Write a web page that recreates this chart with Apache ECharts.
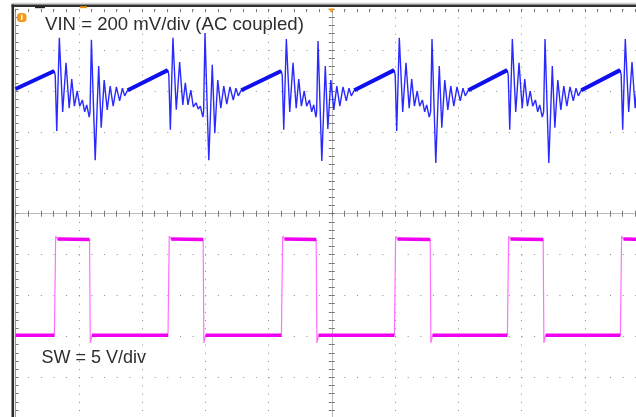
<!DOCTYPE html>
<html><head><meta charset="utf-8">
<script src="https://cdn.jsdelivr.net/npm/echarts@6/dist/echarts.min.js"></script>
<style>html,body{margin:0;padding:0;background:#fff}#c{width:636px;height:417px}</style>
</head><body><div id="c"></div>
<script>
// Horizontal position in divisions (screen centre = 0), vertical level in divisions (centre = 0)
const vinTime = [
  -5.000,
  -4.388,-4.372,-4.348,-4.307,-4.254,-4.201,-4.151,-4.111,-4.069,-4.024,-3.985,-3.942,-3.906,-3.874,-3.834,
  -3.822,-3.800,-3.740,-3.685,-3.645,-3.598,-3.550,-3.503,-3.456,-3.405,-3.353,-3.310,-3.274,-3.226,
  -2.592,-2.576,-2.552,-2.511,-2.458,-2.405,-2.355,-2.315,-2.273,-2.228,-2.189,-2.146,-2.110,-2.078,-2.038,
  -2.026,-2.004,-1.944,-1.889,-1.849,-1.802,-1.754,-1.707,-1.660,-1.609,-1.557,-1.514,-1.478,-1.430,
  -0.799,-0.783,-0.759,-0.718,-0.664,-0.612,-0.562,-0.522,-0.480,-0.435,-0.396,-0.353,-0.317,-0.285,-0.250,
  -0.239,-0.217,-0.157,-0.102,-0.062,-0.015,0.033,0.080,0.128,0.178,0.230,0.273,0.309,0.357,
  0.987,1.003,1.027,1.068,1.122,1.174,1.224,1.264,1.307,1.351,1.390,1.433,1.469,1.501,1.541,
  1.563,1.585,1.645,1.700,1.740,1.787,1.835,1.882,1.930,1.980,2.032,2.075,2.111,2.159,
  2.774,2.790,2.814,2.855,2.909,2.961,3.011,3.051,3.094,3.138,3.177,3.220,3.256,3.288,3.328,
  3.350,3.372,3.432,3.487,3.527,3.574,3.622,3.669,3.717,3.767,3.819,3.862,3.898,3.946,
  4.560,4.576,4.600,4.641,4.695,4.747,4.797,4.837,4.880
];
const vinLevel = [
  3.05,
  3.49,3.39,2.02,4.30,2.49,3.69,2.58,3.29,2.63,3.00,2.63,2.78,2.49,2.66,2.36,
  2.49,4.25,1.31,3.61,2.10,3.27,2.54,3.12,2.63,3.10,2.76,3.07,2.88,3.02,
  3.51,3.39,2.05,4.30,2.54,3.71,2.66,3.20,2.66,3.02,2.61,2.71,2.56,2.63,2.36,
  2.49,4.42,1.31,3.64,1.97,3.27,2.58,3.12,2.68,3.10,2.78,3.07,2.88,3.02,
  3.49,3.39,2.05,4.27,2.49,3.69,2.58,3.29,2.63,3.00,2.63,2.78,2.49,2.66,2.36,
  2.49,4.22,1.29,3.61,2.07,3.27,2.54,3.12,2.63,3.10,2.76,3.07,2.88,3.02,
  3.51,3.39,2.02,4.30,2.49,3.69,2.58,3.29,2.63,3.00,2.63,2.78,2.49,2.66,2.36,
  2.49,4.27,1.24,3.61,2.10,3.27,2.54,3.12,2.63,3.10,2.76,3.07,2.88,3.02,
  3.51,3.39,2.05,4.27,2.49,3.69,2.58,3.29,2.63,3.00,2.63,2.78,2.49,2.66,2.36,
  2.49,4.27,1.24,3.61,2.10,3.27,2.54,3.12,2.63,3.10,2.76,3.07,2.88,3.02,
  3.51,3.39,2.05,4.27,2.49,3.71,2.58,3.29,2.63
];
const swTime = [
  -5.000,
  -4.385,-4.365,-4.335, -3.829,-3.818,-3.790,
  -2.589,-2.569,-2.539, -2.033,-2.022,-1.994,
  -0.796,-0.776,-0.746, -0.246,-0.235,-0.207,
  0.990,1.010,1.040, 1.556,1.567,1.595,
  2.777,2.797,2.827, 3.343,3.354,3.382,
  4.563,4.583,4.613, 5.000
];
const swLevel = [
  -2.97,
  -2.97,-0.55,-0.62, -0.63,-3.16,-2.97,
  -2.97,-0.55,-0.62, -0.63,-3.16,-2.97,
  -2.97,-0.55,-0.62, -0.63,-3.16,-2.97,
  -2.97,-0.55,-0.62, -0.63,-3.16,-2.97,
  -2.97,-0.55,-0.62, -0.63,-3.16,-2.97,
  -2.97,-0.55,-0.62, -0.63
];
const vinLabel = 'VIN = 200 mV/div (AC coupled)';
const swLabel = 'SW = 5 V/div';

const pairs = (t, v) => t.map((x, i) => [x, v[i]]);
const vinData = pairs(vinTime, vinLevel);
const swData = pairs(swTime, swLevel);
// long slow segments (ramps / flat levels) are drawn thicker, like the scope's noisy band
function slowSegments(data, minDt, maxDv) {
  const out = [];
  for (let i = 0; i < data.length - 1; i++) {
    const a = data[i], b = data[i + 1];
    if (b[0] - a[0] > minDt && Math.abs(b[1] - a[1]) < maxDv) {
      out.push(a, b, [null, null]);
    }
  }
  return out;
}
const vinRamp = slowSegments(vinData, 0.3, 5);
const swFlat = slowSegments(swData, 0.1, 0.2);

const chart = echarts.init(document.getElementById('c'));
const base = {type: 'value', min: -5, max: 5, interval: 1, axisLabel: {show: false}};
const tickStyle = {color: '#777', width: 1};
function ax(o) { return Object.assign({}, base, o); }

chart.setOption({
  animation: false,
  backgroundColor: '#fff',
  grid: {left: 15.5, top: 9.2, width: 632.5, height: 409, outerBoundsMode: 'none', containLabel: false, show: false},
  xAxis: [
    ax({position: 'bottom',
        axisLine: {show: true, onZero: true, onZeroAxisIndex: 0, lineStyle: {color: '#b8b8b8', width: 1}},
        axisTick: {show: true, inside: false, length: 3, lineStyle: tickStyle},
        minorTick: {show: true, splitNumber: 5, length: 3, lineStyle: tickStyle},
        splitLine: {show: true, lineStyle: {color: '#8c8c8c', width: 1, type: [1, 7.18]}}}),
    ax({position: 'top',
        axisLine: {show: false, onZero: true, onZeroAxisIndex: 1},
        axisTick: {show: true, inside: false, length: 3, lineStyle: tickStyle},
        minorTick: {show: true, splitNumber: 5, length: 3, lineStyle: tickStyle},
        splitLine: {show: false}}),
    ax({position: 'top',
        axisLine: {show: false, onZero: false},
        axisTick: {show: true, inside: true, length: 3, lineStyle: tickStyle},
        minorTick: {show: true, splitNumber: 5, length: 3, lineStyle: tickStyle},
        splitLine: {show: false}})
  ],
  yAxis: [
    ax({position: 'left',
        axisLine: {show: true, onZero: true, onZeroAxisIndex: 0, lineStyle: {color: '#b8b8b8', width: 1}},
        axisTick: {show: true, inside: false, length: 3, lineStyle: tickStyle},
        minorTick: {show: true, splitNumber: 5, length: 3, lineStyle: tickStyle},
        splitLine: {show: true, lineStyle: {color: '#8c8c8c', width: 1, type: [1, 11.65]}}}),
    ax({position: 'right',
        axisLine: {show: false, onZero: true, onZeroAxisIndex: 1},
        axisTick: {show: true, inside: false, length: 3, lineStyle: tickStyle},
        minorTick: {show: true, splitNumber: 5, length: 3, lineStyle: tickStyle},
        splitLine: {show: false}}),
    ax({position: 'left',
        axisLine: {show: true, onZero: false, lineStyle: {color: '#9a9a9a', width: 1}},
        axisTick: {show: true, inside: true, length: 3, lineStyle: tickStyle},
        minorTick: {show: true, splitNumber: 5, length: 3, lineStyle: tickStyle},
        splitLine: {show: false}})
  ],
  series: [
    {type: 'line', name: 'SW', data: swData, showSymbol: false, symbol: 'none',
     lineStyle: {color: '#ff70ff', width: 1.2}, z: 3},
    {type: 'line', name: 'SW band', data: swFlat, showSymbol: false, symbol: 'none', connectNulls: false,
     lineStyle: {color: '#f000f0', width: 3.5}, z: 4},
    {type: 'line', name: 'VIN', data: vinData, showSymbol: false, symbol: 'none',
     lineStyle: {color: '#2a2aff', width: 1.4}, z: 5},
    {type: 'line', name: 'VIN band', data: vinRamp, showSymbol: false, symbol: 'none', connectNulls: false,
     lineStyle: {color: '#1010ee', width: 4}, z: 6}
  ],
  graphic: [
    {type: 'rect', shape: {x: 11.5, y: 2.8, width: 625, height: 1.6}, style: {fill: '#d0d0d0'}, z: 100},
    {type: 'rect', shape: {x: 11.5, y: 4.4, width: 625, height: 2.6}, style: {fill: '#303030'}, z: 100},
    {type: 'rect', shape: {x: 11.5, y: 4.4, width: 2.6, height: 413}, style: {fill: '#2a2a2a'}, z: 100},
    {type: 'rect', shape: {x: 35, y: 6.2, width: 10, height: 2}, style: {fill: '#222'}, z: 101},
    {type: 'rect', shape: {x: 80, y: 6.2, width: 7, height: 2}, style: {fill: '#e8901a'}, z: 101},
    {type: 'polygon', shape: {points: [[328.2, 8.5], [334.4, 8.5], [331.3, 12.8]]}, style: {fill: '#f39a1e'}, z: 101},
    {type: 'rect', shape: {x: 17, y: 13, width: 9.5, height: 9, r: 3.5}, style: {fill: '#f39a1e'}, z: 101},
    {type: 'rect', shape: {x: 21, y: 14.5, width: 1.4, height: 5.5}, style: {fill: '#fff'}, z: 102},
    {type: 'text', x: 45, y: 24.5, style: {text: vinLabel, fill: '#2e2e2e', font: '18.6px "Liberation Sans", Arial, sans-serif', verticalAlign: 'middle'}, z: 110},
    {type: 'text', x: 41.5, y: 358, style: {text: swLabel, fill: '#2e2e2e', font: '18px "Liberation Sans", Arial, sans-serif', verticalAlign: 'middle'}, z: 110}
  ]
});
</script>
</body></html>
